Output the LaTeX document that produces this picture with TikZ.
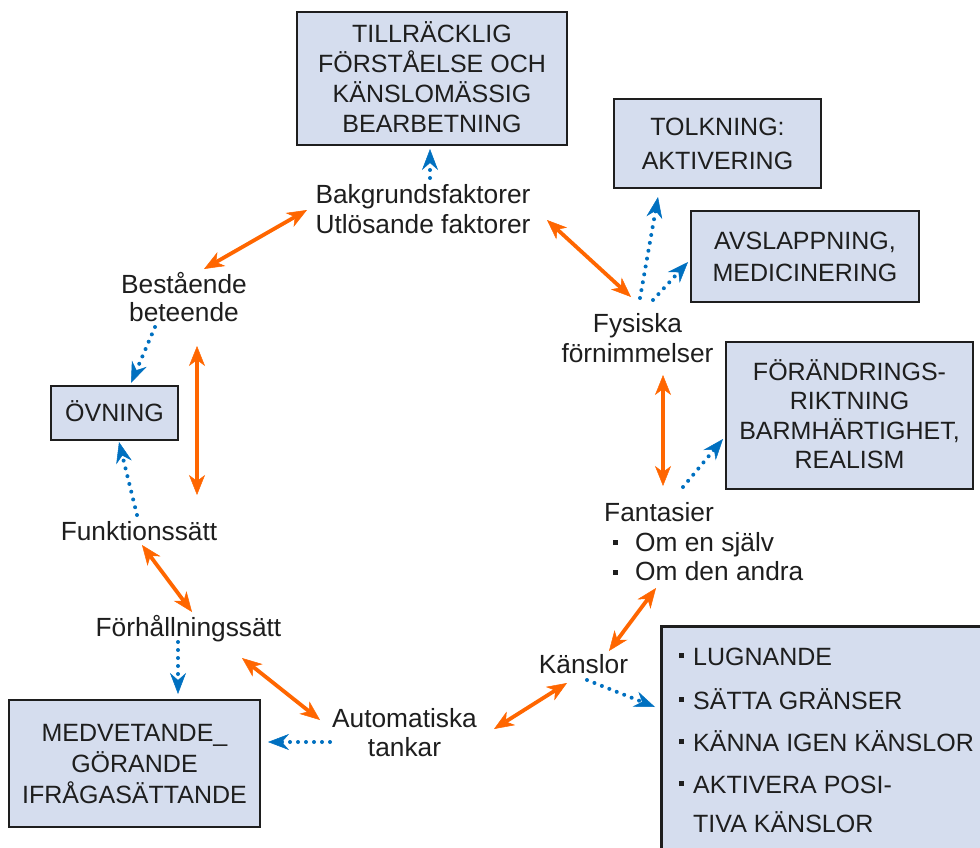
\documentclass[tikz,border=0pt]{standalone}
\usepackage{fontspec}
\setmainfont{Liberation Sans}
\usetikzlibrary{arrows.meta}
\definecolor{orn}{HTML}{FF6600}
\definecolor{blu}{HTML}{0070C0}
\definecolor{boxfill}{HTML}{D5DDEE}
\definecolor{ink}{HTML}{1E1E1E}
\newcommand\mlc[2]{\vbox{\baselineskip=#1\lineskiplimit=-\maxdimen\lineskip=0pt\halign{\hfil##\hfil\cr#2\crcr}}}
\newcommand\mltl[2]{\vtop{\baselineskip=#1\lineskiplimit=-\maxdimen\lineskip=0pt\halign{##\hfil\cr#2\crcr}}}
\newcommand\blt[2]{\makebox[#1][l]{\rule[#2]{5pt}{5pt}}}
\tikzset{
  lbl/.style={inner sep=0pt, text=ink, font=\fontsize{26.3}{30}\selectfont},
  boxn/.style={draw=ink, line width=2.5pt, fill=boxfill, inner sep=0pt, text=ink,
    font=\fontsize{25}{30}\selectfont, text depth=0pt},
  oarr/.style={draw=orn, line width=3.8pt,
    {Stealth[length=20pt,width=16pt,inset=6pt,line width=0.5pt]}-{Stealth[length=20pt,width=16pt,inset=6pt,line width=0.5pt]}},
  barr/.style={draw=blu, line width=4pt, line cap=round, dash pattern=on 0pt off 8pt,
    -{Stealth[length=21pt,width=16pt,inset=7pt,line width=0.5pt]}},
}
\begin{document}
\begin{tikzpicture}[x=1pt,y=-1pt]
\useasboundingbox (0,0) rectangle (980,848);
% boxes
\node[boxn, minimum width=270pt, minimum height=133pt, text height=107.9pt] (tillr) at (432,78.5)
  {\mlc{30pt}{TILLRÄCKLIG\cr FÖRSTÅELSE OCH\cr KÄNSLOMÄSSIG\cr BEARBETNING}};
\node[boxn, minimum width=207pt, minimum height=89pt, text height=51.9pt] (tolk) at (717.5,143.5)
  {\mlc{34pt}{TOLKNING:\cr AKTIVERING}};
\node[boxn, minimum width=228pt, minimum height=91pt, text height=49.9pt] (avsl) at (805,256.5)
  {\mlc{32pt}{AVSLAPPNING,\cr MEDICINERING}};
\node[boxn, minimum width=247pt, minimum height=147pt, text height=106.4pt] (forand) at (849.5,415.5)
  {\mlc{29.5pt}{FÖRÄNDRINGS-\cr RIKTNING\cr BARMHÄRTIGHET,\cr REALISM}};
\node[boxn, minimum width=127pt, minimum height=54pt, text height=17.9pt] (ovn) at (114.5,413)
  {ÖVNING};
\node[boxn, minimum width=251pt, minimum height=127pt, text height=79.9pt] (medv) at (134.5,763.5)
  {\mlc{31pt}{MEDVETANDE\_\cr GÖRANDE\cr IFRÅGASÄTTANDE}};
\begin{scope}
  \clip (0,0) rectangle (980,848);
  \node[boxn, anchor=north west, minimum width=340pt, minimum height=250pt] (lug) at (660,625) {};
\end{scope}
\node[lbl, font=\fontsize{25}{39}\selectfont, anchor=base west] (lugtxt) at (679,665)
  {\mltl{39pt}{\blt{14pt}{7pt}LUGNANDE\cr\noalign{\vskip5pt}
   \blt{14pt}{7pt}SÄTTA GRÄNSER\cr\noalign{\vskip3pt}
   \blt{14pt}{7pt}KÄNNA IGEN KÄNSLOR\cr\noalign{\vskip3pt}
   \blt{14pt}{7pt}AKTIVERA POSI-\cr
   \hspace*{14pt}TIVA KÄNSLOR}};
% labels
\node[lbl, anchor=base] (bak) at (423,233) {\mlc{29.5pt}{Bakgrundsfaktorer\cr Utlösande faktorer}};
\node[lbl, anchor=base] (fys) at (637.5,362) {\mlc{30pt}{Fysiska\cr förnimmelser}};
\node[lbl, anchor=base west] (fant) at (604,521.7)
  {\mltl{29.5pt}{Fantasier\cr
   \hspace*{9pt}\blt{22pt}{6pt}Om en själv\cr
   \hspace*{9pt}\blt{22pt}{6pt}Om den andra}};
\node[lbl, anchor=base] (kans) at (583.5,673) {Känslor};
\node[lbl, anchor=base] (auto) at (404.5,756) {\mlc{29pt}{Automatiska\cr tankar}};
\node[lbl, anchor=base] (forh) at (188.5,636) {Förhållningssätt};
\node[lbl, anchor=base] (funk) at (139,540.7) {Funktionssätt};
\node[lbl, anchor=base] (best) at (184,321) {\mlc{28pt}{Bestående\cr beteende}};
% connector ends
\coordinate (bak-w) at (307,210);   \coordinate (best-ne) at (204,269);
\coordinate (bak-e) at (547,220);   \coordinate (fys-nw) at (631,297);
\coordinate (fys-s) at (663,375);   \coordinate (fant-n) at (663,486);
\coordinate (fant-s) at (656,588);  \coordinate (kans-n) at (609,651);
\coordinate (kans-w) at (567,683);  \coordinate (auto-e) at (494,729);
\coordinate (forh-e) at (242,658);  \coordinate (auto-w) at (320,720);
\coordinate (funk-s) at (142,545);  \coordinate (forh-n) at (192,612);
\coordinate (best-s) at (197,346);  \coordinate (funk-n) at (197,495);
\coordinate (bak-n) at (430,178);   \coordinate (tillr-s) at (430,149);
\coordinate (fys-n1) at (640,298);  \coordinate (tolk-s) at (658,197);
\coordinate (fys-n2) at (653,300);  \coordinate (avsl-w) at (688,262);
\coordinate (fant-ne) at (683,487); \coordinate (forand-w) at (723,439);
\coordinate (kans-se) at (587,680); \coordinate (lug-w) at (655,707);
\coordinate (auto-w2) at (330,742); \coordinate (medv-e) at (268,742);
\coordinate (forh-s) at (178,642);  \coordinate (medv-n) at (178,694);
\coordinate (funk-n2) at (137,515); \coordinate (ovn-s) at (119,442);
\coordinate (best-sw) at (155,327); \coordinate (ovn-n) at (131,383);
% orange two-way arrows
\draw[oarr] (bak-w) -- (best-ne);
\draw[oarr] (bak-e) -- (fys-nw);
\draw[oarr] (fys-s) -- (fant-n);
\draw[oarr] (fant-s) -- (kans-n);
\draw[oarr] (kans-w) -- (auto-e);
\draw[oarr] (forh-e) -- (auto-w);
\draw[oarr] (funk-s) -- (forh-n);
\draw[oarr] (best-s) -- (funk-n);
% blue dotted arrows
\draw[barr] (bak-n) -- (tillr-s);
\draw[barr] (fys-n1) -- (tolk-s);
\draw[barr] (fys-n2) -- (avsl-w);
\draw[barr] (fant-ne) -- (forand-w);
\draw[barr] (kans-se) -- (lug-w);
\draw[barr] (auto-w2) -- (medv-e);
\draw[barr] (forh-s) -- (medv-n);
\draw[barr] (funk-n2) -- (ovn-s);
\draw[barr] (best-sw) -- (ovn-n);
\end{tikzpicture}
\end{document}
